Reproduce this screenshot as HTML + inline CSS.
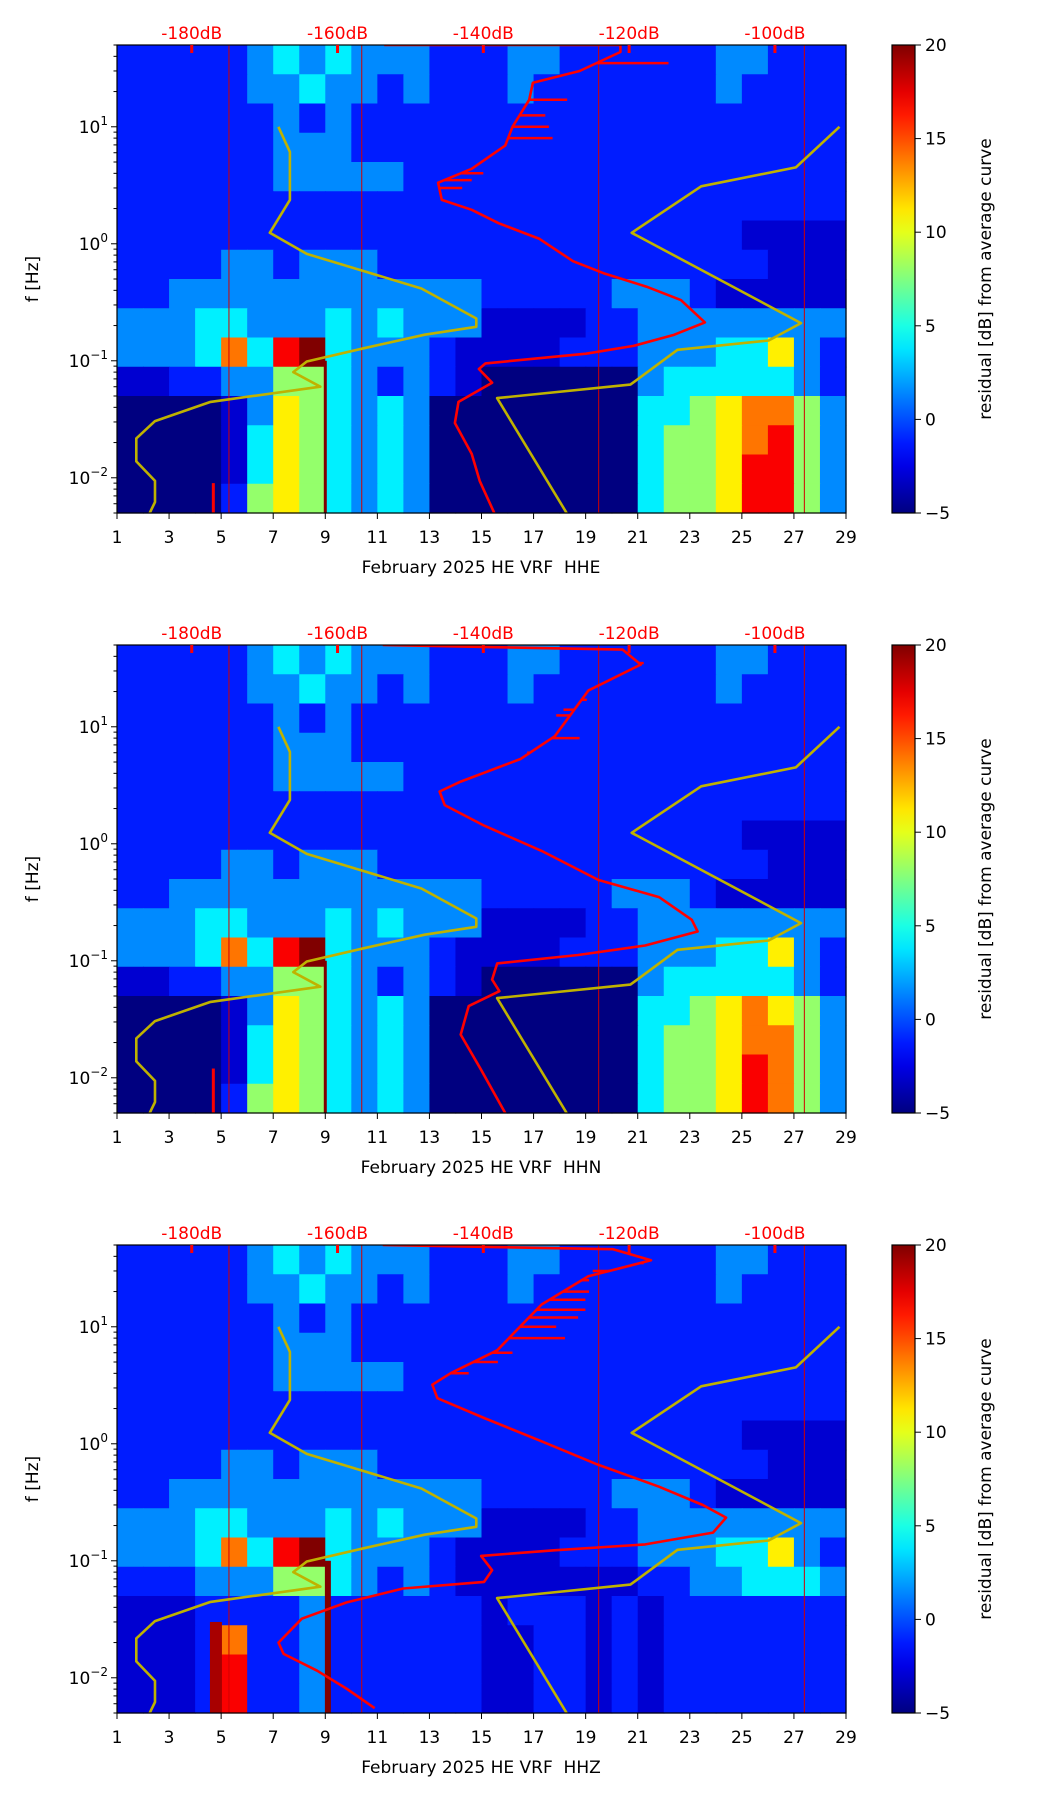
<!DOCTYPE html>
<html><head><meta charset="utf-8">
<style>
html,body{margin:0;padding:0;background:#fff;}
svg{display:block;font-family:"DejaVu Sans","Liberation Sans",sans-serif;}
</style></head>
<body>
<svg id="fig" width="1052" height="1806" viewBox="0 0 1052 1806" xmlns="http://www.w3.org/2000/svg"></svg>
<script>
// ---------- data ----------
const xTicks = [1,3,5,7,9,11,13,15,17,19,21,23,25,27,29];
const dbTicks = [-180,-160,-140,-120,-100];
const cbTicks = [-5,0,5,10,15,20];
const yMajor = [-2,-1,0,1];
const channels = ["HHE","HHN","HHZ"];
// residual dB value for each heatmap digit
const digitValues = [-5,-3,-1.2,1.5,4,8,11,14,17,20];

// heatmap rows: 16 quarter-decade bands from 50 Hz down to 0.005 Hz, 28 day columns
const heat1 = [
"2222234343332223322222233222",
"2222233433232223222222232222",
"2222223232222222222222222222",
"2222223332222222222222222222",
"2222223333322222222222222222",
"2222222222222222222222222222",
"2222222222222222222222221111",
"2222332333222222222222222111",
"2233333333333322222333211111",
"3334433343433311112233333333",
"3334748943332111122233344632",
"1122335543232100000034444432",
"0000136543430000000044567753",
"0000146543430000000045567853",
"0000146543430000000045568853",
"0000256543430000000045568853"];
const heat2 = [
"2222234343332223322222233222",
"2222233433232223222222232222",
"2222223232222222222222222222",
"2222223332222222222222222222",
"2222223333322222222222222222",
"2222222222222222222222222222",
"2222222222222222222222221111",
"2222332333222222222222222111",
"2233333333333322222333211111",
"3334433343433311112233333333",
"3334748943332111122233344632",
"1122335543232100000034444432",
"0000136543430000000044567653",
"0000146543430000000045567753",
"0000146543430000000045568753",
"0000256543430000000045568753"];
const heat3 = [
"2222234343332223322222233222",
"2222233433232223222222232222",
"2222223232222222222222222222",
"2222223332222222222222222222",
"2222223333322222222222222222",
"2222222222222222222222222222",
"2222222222222222222222221111",
"2222332333222222222222222111",
"2233333333333322222333211111",
"3334433343433311112233333333",
"3334748943332111122233344632",
"2223335543232111111122334443",
"1112222322222212221212222222",
"1112722322222211221212222222",
"1112822322222211221212222222",
"1112822322222211221212222222"];
const heats = [heat1, heat2, heat3];

// vertical streaks: [day, fLow, fHigh, widthPx, value]
const streaks1 = [[9.0,0.005,0.1,3,20],[5.3,0.005,50,1,18],[10.4,0.005,50,1,18],[19.5,0.005,50,1,18],[27.4,0.005,50,1,18],[4.7,0.005,0.009,3,17]];
const streaks2 = [[9.0,0.005,0.1,3,20],[5.3,0.005,50,1,18],[10.4,0.005,50,1,18],[19.5,0.005,50,1,18],[27.4,0.005,50,1,18],[4.7,0.005,0.012,3,17]];
const streaks3 = [[9.1,0.005,0.1,6,20],[4.8,0.005,0.03,12,19],[5.3,0.005,50,1,18],[10.4,0.005,50,1,18],[19.5,0.005,50,1,18],[27.4,0.005,50,1,18]];
const streaks = [streaks1, streaks2, streaks3];

// yellow reference curves [day, freq]
const yellowLeftDay  = [7.2,7.64,7.64,6.87,8.29,12.69,14.8,14.8,12.82,10.49,8.29,7.77,8.81,4.59,2.46,1.74,1.74,2.46,2.46,2.2];
const yellowLeftF    = [10,6.1,2.37,1.24,0.82,0.415,0.23,0.195,0.167,0.128,0.0986,0.080,0.060,0.0445,0.0305,0.0217,0.0138,0.0094,0.0062,0.0047];
const yellowRightDay = [28.75,27.07,23.44,20.77,27.27,26.03,22.53,20.72,15.6,18.34];
const yellowRightF   = [10,4.5,3.1,1.24,0.21,0.149,0.124,0.0626,0.048,0.0047];

// red average curves [freq, dB]
const red1F  = [50,50,43.6,30,23.8,17,10,6.9,4.37,3.33,2.37,1.95,1.5,1.1,0.71,0.56,0.43,0.33,0.213,0.167,0.134,0.115,0.095,0.085,0.065,0.0445,0.0294,0.016,0.0094,0.0047];
const red1dB = [-153.6,-121.2,-121.2,-126.8,-133.2,-133.7,-136.0,-137.0,-141.6,-146.2,-145.7,-141.6,-137.9,-132.3,-127.7,-123.5,-117.6,-112.9,-109.6,-113.8,-119.4,-125.9,-139.7,-140.6,-138.8,-143.4,-143.9,-141.6,-140.5,-138.3];
const red2F  = [50,45.7,34,20.4,8.3,5.3,3.4,2.8,2.14,1.43,0.87,0.49,0.35,0.224,0.178,0.135,0.112,0.095,0.069,0.055,0.041,0.0234,0.0117,0.005];
const red2dB = [-153.8,-120.9,-118.4,-125.6,-130.2,-134.9,-143.1,-146.0,-145.3,-139.9,-132.0,-124.2,-115.9,-111.4,-110.6,-117.8,-127.0,-138.1,-138.8,-137.8,-142.0,-143.1,-140.3,-137.0];
const red3F  = [50,46,37,27,15.5,6.3,4.0,3.2,2.45,1.66,1.05,0.66,0.43,0.30,0.234,0.174,0.138,0.123,0.11,0.083,0.066,0.058,0.044,0.032,0.020,0.016,0.0115,0.0081,0.0055];
const red3dB = [-153.8,-122.2,-117.0,-125.6,-132.0,-138.1,-144.5,-147.0,-146.3,-139.9,-132.0,-124.2,-115.9,-109.9,-106.7,-108.5,-117.8,-130.3,-140.3,-138.8,-139.9,-151.0,-158.8,-164.9,-168.1,-167.4,-162.8,-158.8,-154.9];
const redF = [red1F, red2F, red3F];
const redDB = [red1dB, red2dB, red3dB];

// spikes [freq, dB]
const spikes1F  = [35,17,12.5,10,8,4.0,3.5,3.0];
const spikes1dB = [-114.6,-128.5,-131.5,-131,-130.5,-140,-141.6,-142.9];
const spikes2F  = [35,17,14,12.5,8,6,4.5];
const spikes2dB = [-118,-125.8,-129,-130,-126.8,-134,-138];
const spikes3F  = [35,30,25,20,17,14,12,10,8,6,5,4];
const spikes3dB = [-118,-125,-125.5,-125.5,-126,-126,-127,-130,-128.8,-136,-138,-142];
const spikesF = [spikes1F, spikes2F, spikes3F];
const spikesDB = [spikes1dB, spikes2dB, spikes3dB];

// ---------- layout ----------
const NS = "http://www.w3.org/2000/svg";
const svg = document.getElementById('fig');
const L = 117, R = 846, PW = R - L, PH = 468;
const tops = [45, 645, 1245];
const LOGTOP = Math.log10(50), LOGBOT = Math.log10(0.005);
const CBL = 892, CBR = 915;

function X(d){ return L + (d - 1) / 28 * PW; }
function Yf(top, f){ return top + (LOGTOP - Math.log10(f)) / (LOGTOP - LOGBOT) * PH; }
function dbToDay(db){ return 3.87 + (db + 180) * 0.28; }
function jet(t){
  t = Math.max(0, Math.min(1, t));
  const r = Math.max(0, Math.min(1, 1.5 - Math.abs(4*t - 3)));
  const g = Math.max(0, Math.min(1, 1.5 - Math.abs(4*t - 2)));
  const b = Math.max(0, Math.min(1, 1.5 - Math.abs(4*t - 1)));
  return `rgb(${Math.round(r*255)},${Math.round(g*255)},${Math.round(b*255)})`;
}
function valColor(v){ return jet((v + 5) / 25); }
function mk(tag, attrs, parent){
  const e = document.createElementNS(NS, tag);
  for (const k in attrs) e.setAttribute(k, attrs[k]);
  (parent || svg).appendChild(e);
  return e;
}
function interpRed(fArr, dbArr, f){
  const lf = Math.log10(f);
  for (let i = 1; i < fArr.length; i++){
    const a = Math.log10(fArr[i-1]), b = Math.log10(fArr[i]);
    if ((lf <= a && lf >= b) && a !== b){
      const t = (lf - a) / (b - a);
      return dbArr[i-1] + t * (dbArr[i] - dbArr[i-1]);
    }
  }
  return dbArr[dbArr.length-1];
}

const defs = mk('defs', {});
const grad = mk('linearGradient', {id:'jetg', x1:'0', y1:'1', x2:'0', y2:'0'}, defs);
for (let i = 0; i <= 20; i++){
  mk('stop', {offset: (i/20).toFixed(2), 'stop-color': jet(i/20)}, grad);
}

tops.forEach((top, p) => {
  const g = mk('g', {});
  
  

  const hg = mk('g', {}, g);
  
  
  const rows = heats[p];
  rows.forEach((row, r) => {
    const lt = LOGTOP - r * 0.25, lb = LOGTOP - (r + 1) * 0.25;
    const y0 = Yf(top, Math.pow(10, lt)), y1 = Yf(top, Math.pow(10, lb));
    for (let c = 0; c < 28; c++){
      const v = digitValues[parseInt(row[c], 10)];
      const x0 = X(c + 1), x1 = X(c + 2);
      const cell = mk('rect', {x: x0.toFixed(2), y: y0.toFixed(2), width: (x1 - x0 + 0.6).toFixed(2), height: (y1 - y0 + 0.6).toFixed(2), fill: valColor(v)}, hg);
      
      
    }
  });
  streaks[p].forEach(s => {
    const ya = Yf(top, s[2]), yb = Yf(top, s[1]);
    const st = mk('rect', {x: (X(s[0]) - s[3]/2).toFixed(2), y: ya.toFixed(2), width: s[3], height: (yb - ya).toFixed(2), fill: valColor(s[4])}, g);
    
    
  });

  const cp = mk('clipPath', {id: 'clip' + p}, defs);
  mk('rect', {x: L, y: top, width: PW, height: PH}, cp);

  [[yellowLeftDay, yellowLeftF],[yellowRightDay, yellowRightF]].forEach((yc, k) => {
    const pts = yc[0].map((d, i) => X(d).toFixed(1) + ',' + Yf(top, yc[1][i]).toFixed(1)).join(' ');
    const pl = mk('polyline', {points: pts, fill: 'none', stroke: '#bfb200', 'stroke-width': 2.6, 'stroke-linejoin': 'round', 'clip-path': `url(#clip${p})`}, g);
    
    
  });

  spikesF[p].forEach((f, i) => {
    const base = interpRed(redF[p], redDB[p], f);
    const y = Yf(top, f);
    const sp = mk('line', {x1: X(dbToDay(base)).toFixed(1), y1: y.toFixed(1), x2: X(dbToDay(spikesDB[p][i])).toFixed(1), y2: y.toFixed(1), stroke: '#ff0000', 'stroke-width': 2.5, 'clip-path': `url(#clip${p})`}, g);
    
    
  });
  const rpts = redF[p].map((f, i) => X(dbToDay(redDB[p][i])).toFixed(1) + ',' + Yf(top, f).toFixed(1)).join(' ');
  const rl = mk('polyline', {points: rpts, fill: 'none', stroke: '#ff0000', 'stroke-width': 2.6, 'stroke-linejoin': 'round', 'clip-path': `url(#clip${p})`}, g);
  
  

  const fr = mk('rect', {x: L, y: top, width: PW, height: PH, fill: 'none', stroke: '#000', 'stroke-width': 1.2}, g);
  
  

  xTicks.forEach(d => {
    const x = X(d);
    mk('line', {x1: x, y1: top + PH, x2: x, y2: top + PH + 6, stroke: '#000', 'stroke-width': 1}, g);
    const t = mk('text', {x: x, y: top + PH + 30, 'font-size': 17, 'text-anchor': 'middle', fill: '#000'}, g);
    t.textContent = String(d);
    
    
  });
  const xl = mk('text', {x: 481, y: top + PH + 60, 'font-size': 17, 'text-anchor': 'middle', fill: '#000'}, g);
  xl.textContent = 'February 2025 HE VRF \u00a0' + channels[p];
  
  

  dbTicks.forEach(db => {
    const x = X(dbToDay(db));
    mk('line', {x1: x, y1: top, x2: x, y2: top + 8, stroke: '#ff0000', 'stroke-width': 3}, g);
    const t = mk('text', {x: x, y: top - 6, 'font-size': 17, 'text-anchor': 'middle', fill: '#ff0000'}, g);
    t.textContent = db + 'dB';
    
    
  });

  for (let e = -3; e <= 1; e++){
    for (let m = 1; m <= 9; m++){
      const f = m * Math.pow(10, e);
      if (f < 0.005 || f > 50) continue;
      const y = Yf(top, f);
      mk('line', {x1: L - (m === 1 ? 6 : 3.5), y1: y, x2: L, y2: y, stroke: '#000', 'stroke-width': 1}, g);
    }
  }
  yMajor.forEach(e => {
    const y = Yf(top, Math.pow(10, e));
    const t = mk('text', {x: L - 9, y: y + 6, 'font-size': 17, 'text-anchor': 'end', fill: '#000'}, g);
    
    
    const s1 = mk('tspan', {}, t); s1.textContent = '10';
    const s2 = mk('tspan', {dy: -8, 'font-size': 12}, t); s2.textContent = e < 0 ? '\u2212' + (-e) : String(e);
  });
  const yl = mk('text', {x: 0, y: 0, 'font-size': 17, 'text-anchor': 'middle', fill: '#000', transform: `translate(38,${top + PH/2}) rotate(-90)`}, g);
  yl.textContent = 'f [Hz]';
  
  

  const cb = mk('rect', {x: CBL, y: top, width: CBR - CBL, height: PH, fill: 'url(#jetg)', stroke: '#000', 'stroke-width': 1.2}, g);
  
  
  cbTicks.forEach(v => {
    const y = top + PH - (v + 5) / 25 * PH;
    mk('line', {x1: CBR, y1: y, x2: CBR + 6, y2: y, stroke: '#000', 'stroke-width': 1}, g);
    const t = mk('text', {x: CBR + 10, y: y + 6, 'font-size': 17, fill: '#000'}, g);
    t.textContent = v < 0 ? '\u2212' + (-v) : String(v);
    
    
  });
  const cl = mk('text', {x: 0, y: 0, 'font-size': 17, 'text-anchor': 'middle', fill: '#000', transform: `translate(991,${top + PH/2}) rotate(-90)`}, g);
  cl.textContent = 'residual [dB] from average curve';
  
  
});
</script>
</body></html>
